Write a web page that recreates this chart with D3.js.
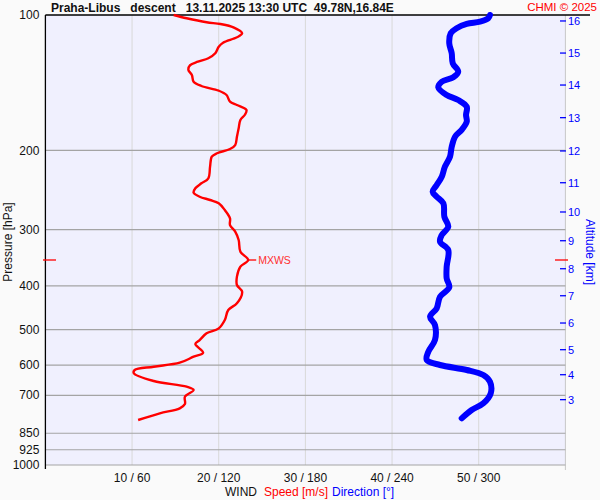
<!DOCTYPE html>
<html>
<head>
<meta charset="utf-8">
<script src="https://cdn.jsdelivr.net/npm/d3@7"></script>
<style>
  body { margin: 0; background: #fafafa; }
  svg { display: block; font-family: "Liberation Sans", Arial, sans-serif; }
</style>
</head>
<body>
<div id="chart"></div>
<script>
const width = 600;
const height = 500;

const margin = { "top": 15, "left": 45.4, "bottom": 35, "right": 34.6 };

// Data
// wind speed profile [m/s] against pressure [hPa]
const speedPressure = [100, 101.7, 103.8, 104.7, 106.5, 109.8, 112.1, 115.2, 117.6, 121.6,
    124.8, 127.0, 129.2, 132.5, 135.9, 140.7, 143.8, 147.3, 150.6, 155.8,
    158.5, 162.6, 166.8, 171.1, 178.5, 186.4, 194.5, 198.5, 202.9, 206.5,
    217.3, 230.6, 236.6, 242.7, 248.3, 253.4, 257.7, 262.1, 271.3, 283.1,
    292.9, 303.0, 316.2, 335.7, 350.3, 362.5, 381.5, 398.1, 412.0, 437.3,
    452.4, 476.2, 497.0, 509.8, 527.6, 538.5, 563.0, 574.6, 592.5, 604.7,
    615.0, 625.4, 650.7, 669.9, 681.3, 705.0, 731.8, 748.2, 767.6, 794.3];
const speedValues = [14.8, 16.3, 18.6, 20.2, 21.7, 22.7, 22.1, 20.5, 20.0, 19.6,
    18.8, 17.6, 16.7, 16.5, 16.9, 17.1, 18.0, 20.0, 20.9, 21.3,
    22.1, 23.2, 23.0, 22.5, 22.3, 22.1, 21.9, 21.3, 19.8, 19.2,
    19.0, 18.8, 18.0, 17.3, 17.1, 17.8, 19.0, 20.0, 20.7, 21.3,
    21.3, 21.9, 22.3, 22.5, 23.4, 22.5, 22.1, 22.1, 22.7, 22.1,
    21.1, 20.7, 20.0, 18.6, 17.8, 17.3, 18.2, 17.1, 15.5, 12.5,
    10.3, 10.2, 12.5, 16.3, 17.1, 16.1, 16.1, 15.5, 13.2, 10.7];

// wind direction profile [deg] against pressure [hPa]
const dirPressure = [100, 101.7, 103.5, 104.7, 107.0, 109.8, 115.6, 121.6, 128.0, 133.7,
    137.5, 140.7, 144.8, 150.6, 154.5, 159.9, 166.8, 172.6, 180.0, 186.4,
    196.2, 206.5, 217.3, 228.8, 238.7, 247.0, 253.4, 262.1, 280.7, 295.4,
    308.3, 319.0, 332.8, 362.5, 384.7, 402.9, 422.7, 448.5, 468.2, 488.6,
    527.6, 560.1, 584.3, 599.5, 615.0, 631.0, 653.1, 692.9, 729.3, 754.6, 787.6];
const dirValues = [307.8, 306.6, 300.9, 291.7, 284.7, 280.6, 279.6, 281.3, 282.0, 285.8,
    282.4, 274.4, 272.0, 277.8, 285.8, 291.7, 291.2, 291.7, 288.2, 283.6,
    281.3, 280.1, 276.6, 274.4, 270.9, 268.1, 270.9, 275.5, 276.2, 278.9,
    274.4, 273.2, 278.9, 277.8, 277.8, 279.6, 273.2, 270.9, 266.3, 269.7,
    269.7, 265.1, 264.0, 273.2, 291.7, 303.2, 307.8, 308.3, 303.2, 295.1, 288.2];

// max wind speed marker
const mxwsPressure = 350.3;
const mxwsSpeed = 23.4;

// axes
const pressureTicks = [100, 200, 300, 400, 500, 600, 700, 850, 925, 1000];
const windTicks = [10, 20, 30, 40, 50];
const windGrid = [10, 20, 30, 40, 50, 60];
const altitudeKm = [3, 4, 5, 6, 7, 8, 9, 10, 11, 12, 13, 14, 15, 16];
const altitudePressure = [715.8, 630.0, 554.3, 483.6, 420.6, 366.3, 317.4, 274.0, 235.9, 200.5, 169.1, 143.1, 121.5, 103.1];

const plotLeft = margin.left;
const plotRight = width - margin.right;
const plotTop = margin.top;
const plotBottom = height - margin.bottom;

const xSpeed = d3.scaleLinear().domain([0, 60]).range([plotLeft, plotRight]);
const xDir = d3.scaleLinear().domain([0, 360]).range([plotLeft, plotRight]);
const yScale = d3.scaleLog().domain([100, 1000]).range([plotTop, plotBottom]);

const svg = d3.select("#chart").append("svg").attr("width", width).attr("height", height);

svg.append("rect").attr("width", width).attr("height", height).attr("fill", "#fafafa");

// plot area
svg.append("rect")
    .attr("x", plotLeft).attr("y", plotTop)
    .attr("width", plotRight - plotLeft).attr("height", plotBottom - plotTop)
    .attr("fill", "#f0f0fe");

// vertical grid
svg.append("g").selectAll("line")
    .data(windGrid)
    .join("line")
    .attr("x1", d => xSpeed(d)).attr("x2", d => xSpeed(d))
    .attr("y1", plotTop).attr("y2", d => d === 60 ? plotBottom + 5 : plotBottom)
    .attr("stroke", d => d === 60 ? "#c8c8c8" : "#d8d8d8")
    .attr("stroke-width", 1);

// horizontal grid
svg.append("g").selectAll("line")
    .data(pressureTicks.filter(d => d > 100))
    .join("line")
    .attr("x1", plotLeft).attr("x2", plotRight)
    .attr("y1", d => yScale(d)).attr("y2", d => yScale(d))
    .attr("stroke", "#a4a4a4")
    .attr("stroke-width", 1.2);

// left and top axis lines
svg.append("line").attr("x1", plotLeft).attr("x2", plotLeft).attr("y1", plotTop).attr("y2", plotBottom + 4)
    .attr("stroke", "#000").attr("stroke-width", 1.3);
svg.append("line").attr("x1", plotLeft).attr("x2", 590).attr("y1", plotTop).attr("y2", plotTop)
    .attr("stroke", "#000").attr("stroke-width", 1.3);

// pressure tick labels
svg.append("g").selectAll("text")
    .data(pressureTicks)
    .join("text")
    .attr("x", plotLeft - 6)
    .attr("y", d => yScale(d))
    .attr("dy", "0.35em")
    .attr("text-anchor", "end")
    .attr("font-size", 12)
    .attr("fill", "#111")
    .text(d => d);

// wind tick labels
svg.append("g").selectAll("text")
    .data(windTicks)
    .join("text")
    .attr("x", d => xSpeed(d))
    .attr("y", 482)
    .attr("text-anchor", "middle")
    .attr("font-size", 12)
    .attr("fill", "#111")
    .text(d => `${d} / ${Math.round(xDir.invert(xSpeed(d)))}`);

// altitude axis
const altG = svg.append("g");
altG.selectAll("line")
    .data(altitudeKm)
    .join("line")
    .attr("x1", 560).attr("x2", 566)
    .attr("y1", (d, i) => yScale(altitudePressure[i]))
    .attr("y2", (d, i) => yScale(altitudePressure[i]))
    .attr("stroke", "#0000ff").attr("stroke-width", 1.3);
altG.selectAll("text")
    .data(altitudeKm)
    .join("text")
    .attr("x", 568)
    .attr("y", (d, i) => yScale(altitudePressure[i]))
    .attr("dy", "0.35em")
    .attr("font-size", 11)
    .attr("fill", "#0000ff")
    .text(d => d);

// axis titles
svg.append("text")
    .attr("transform", `translate(12,${(plotTop + plotBottom) / 2 + 2}) rotate(-90)`)
    .attr("text-anchor", "middle")
    .attr("font-size", 12)
    .attr("fill", "#111")
    .text("Pressure [hPa]");

svg.append("text")
    .attr("transform", `translate(586,${(plotTop + plotBottom) / 2 + 12}) rotate(90)`)
    .attr("text-anchor", "middle")
    .attr("font-size", 12)
    .attr("fill", "#0000ff")
    .text("Altitude [km]");

const legend = svg.append("text").attr("y", 496).attr("font-size", 12);
legend.append("tspan").attr("x", 225).attr("fill", "#111").text("WIND");
legend.append("tspan").attr("x", 264).attr("fill", "#ff0000").text("Speed [m/s]");
legend.append("tspan").attr("x", 332).attr("fill", "#0000ff").text("Direction [°]");

// title
svg.append("text")
    .attr("x", 51).attr("y", 12)
    .attr("font-size", 12)
    .attr("font-weight", "bold")
    .attr("fill", "#111")
    .attr("xml:space", "preserve")
    .style("white-space", "pre")
    .text("Praha-Libus   descent   13.11.2025 13:30 UTC  49.78N,16.84E");

svg.append("text")
    .attr("x", 597).attr("y", 11)
    .attr("text-anchor", "end")
    .attr("font-size", 11.5)
    .attr("fill", "#ff0000")
    .text("CHMI © 2025");

// wind direction (blue)
const dirLine = d3.line()
    .x((d, i) => xDir(d))
    .y((d, i) => yScale(dirPressure[i]))
    .curve(d3.curveCatmullRom);

svg.append("path")
    .datum(dirValues)
    .attr("fill", "none")
    .attr("stroke", "#0000ff")
    .attr("stroke-width", 6)
    .attr("stroke-linecap", "round")
    .attr("stroke-linejoin", "round")
    .attr("d", dirLine);

// wind speed (red)
const speedLine = d3.line()
    .x((d, i) => xSpeed(d))
    .y((d, i) => yScale(speedPressure[i]))
    .curve(d3.curveCatmullRom);

svg.append("path")
    .datum(speedValues)
    .attr("fill", "none")
    .attr("stroke", "#ff0000")
    .attr("stroke-width", 2.4)
    .attr("stroke-linejoin", "round")
    .attr("d", speedLine);

// MXWS markers
const yMx = yScale(mxwsPressure);
svg.append("line").attr("x1", xSpeed(mxwsSpeed)).attr("x2", xSpeed(mxwsSpeed) + 8)
    .attr("y1", yMx).attr("y2", yMx).attr("stroke", "#ff0000").attr("stroke-width", 1.3);
svg.append("text")
    .attr("x", xSpeed(mxwsSpeed) + 10).attr("y", yMx).attr("dy", "0.35em")
    .attr("font-size", 10.5).attr("fill", "#ff3030")
    .text("MXWS");
svg.append("line").attr("x1", 43).attr("x2", 56)
    .attr("y1", yMx).attr("y2", yMx).attr("stroke", "#ff0000").attr("stroke-width", 1.3);
svg.append("line").attr("x1", 555).attr("x2", 568)
    .attr("y1", yMx).attr("y2", yMx).attr("stroke", "#ff0000").attr("stroke-width", 1.3);
</script>
</body>
</html>
